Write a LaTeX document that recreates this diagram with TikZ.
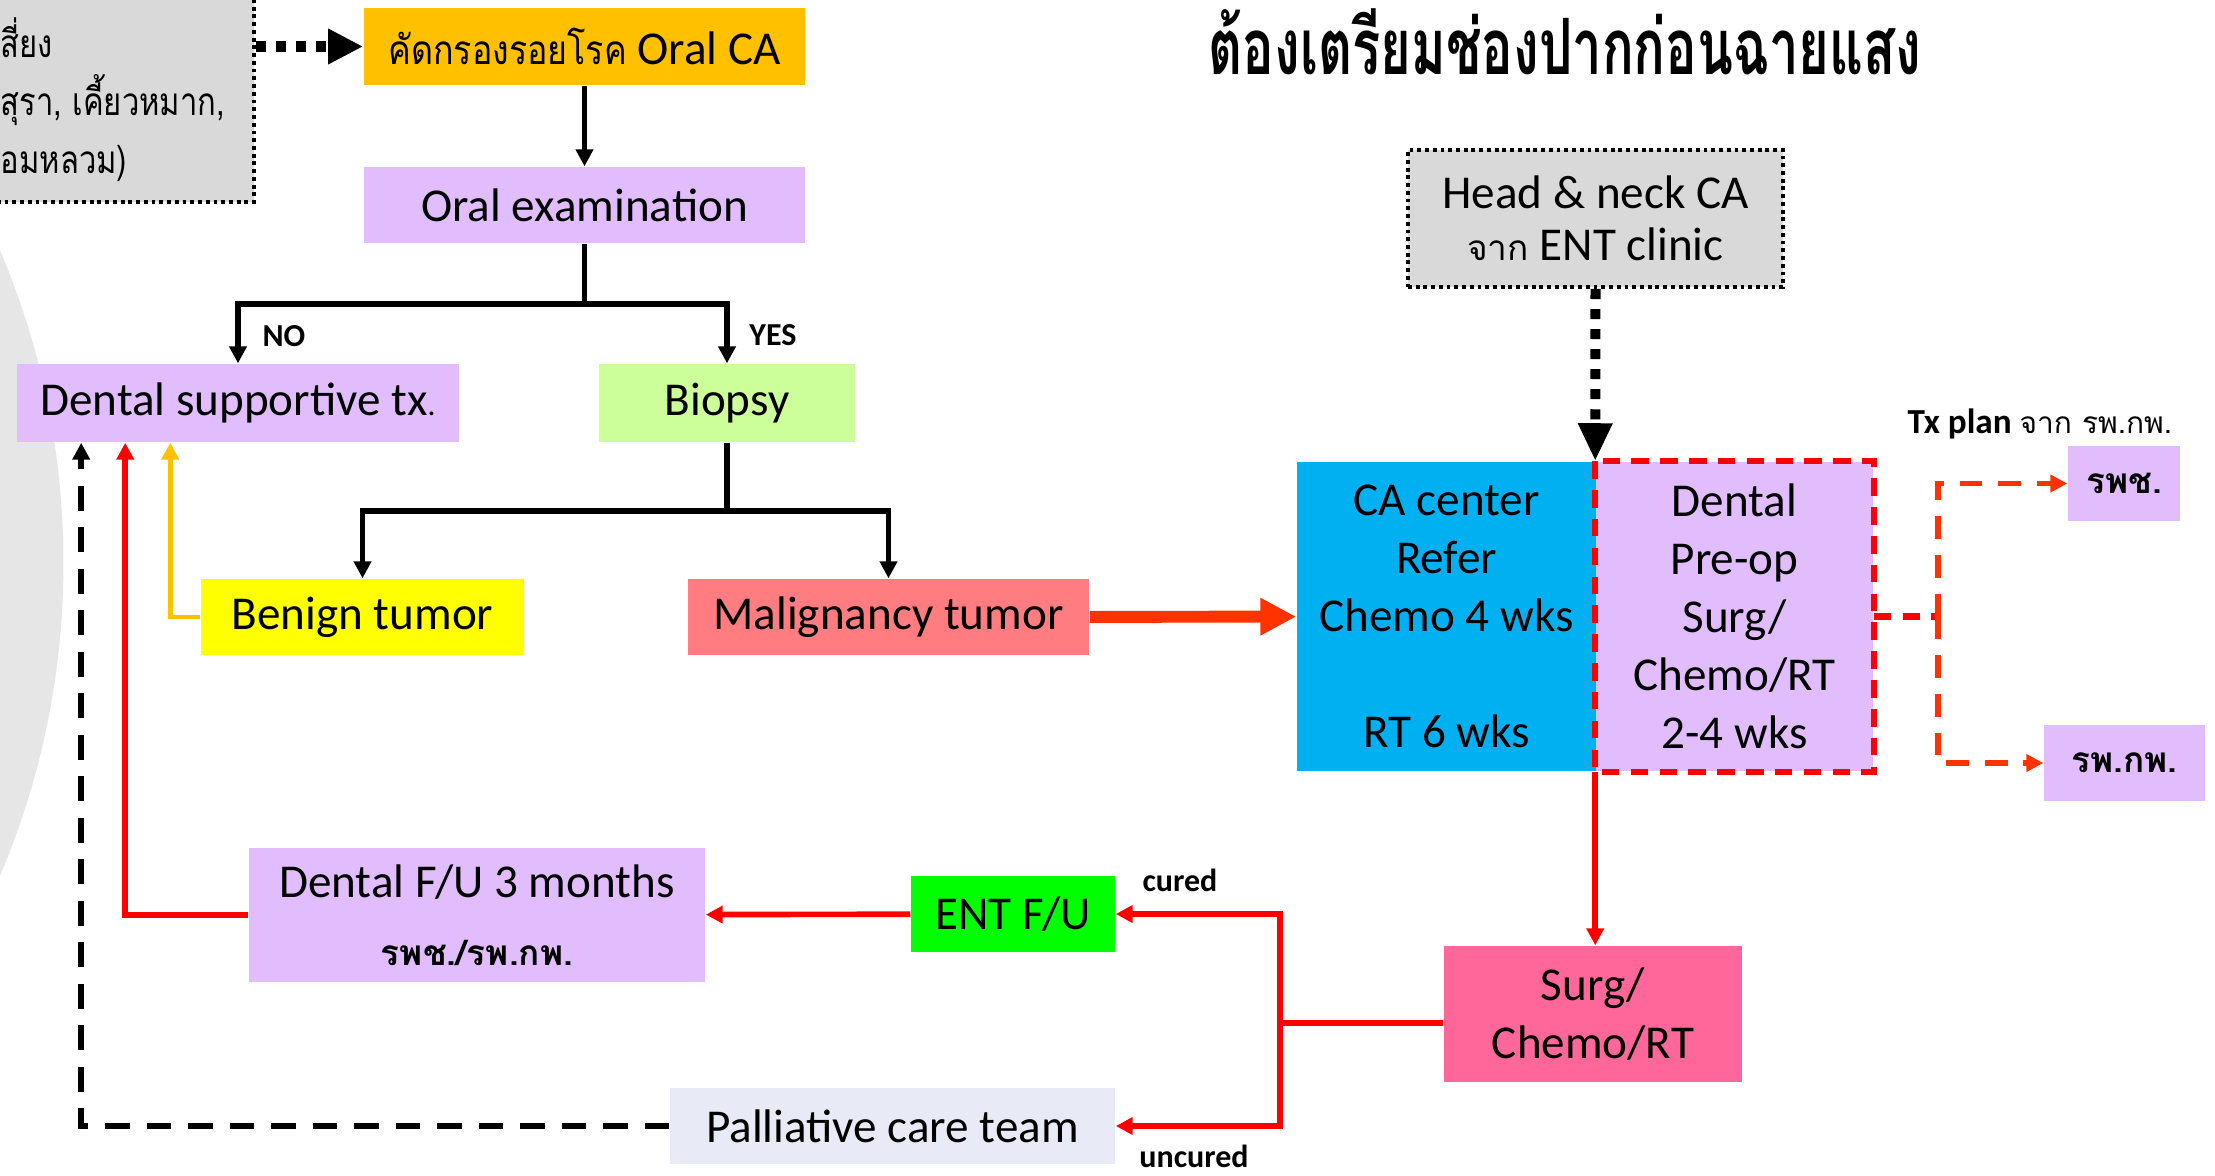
\documentclass[tikz,border=0pt]{standalone}
\usepackage{fontspec}
\usepackage{graphicx}
\setmainfont{Carlito}
\newfontfamily\thai[Script=Thai]{Loma}
\usetikzlibrary{arrows.meta}
\definecolor{screenorange}{HTML}{FFC000}
\definecolor{boxlavender}{HTML}{E1BDFD}
\definecolor{biopsygreen}{HTML}{CCFF99}
\definecolor{benignyellow}{HTML}{FFFF00}
\definecolor{maligsalmon}{HTML}{FF7C80}
\definecolor{centerblue}{HTML}{00B0F0}
\definecolor{surgpink}{HTML}{FF6699}
\definecolor{entgreen}{HTML}{00FF00}
\definecolor{palliblue}{HTML}{E8EAF6}
\definecolor{notegray}{HTML}{D9D9D9}
\definecolor{backgray}{HTML}{E6E6E6}
\definecolor{hotred}{HTML}{FF3300}
\newcommand\squeeze[2][0.82]{\scalebox{#1}[1]{#2}}
\tikzset{
	% ------- every something
	every node/.style={
		font=\fontsize{13.4}{16.5}\selectfont,
		inner sep=0pt,
		text=black,
	},
	% ------- custom
	box/.style={
		rectangle, align=center,
	},
	note box/.style={
		box, fill=notegray, draw=black,
		line width=1.1pt, dash pattern=on 1.1pt off 1.1pt,
	},
	tag/.style={
		font=\bfseries\fontsize{9.1}{11}\selectfont,
	},
	flow/.style={
		line width=1.6pt,
		-{Triangle[length=4.8pt, width=4.8pt]},
	},
	red flow/.style={
		flow, red,
	},
	yellow flow/.style={
		flow, screenorange, line width=1.4pt,
	},
	dashed flow/.style={
		flow, dash pattern=on 7pt off 4.8pt,
	},
	red dashed/.style={
		line width=1.8pt, red, dash pattern=on 5pt off 3.2pt,
	},
	red dashed flow/.style={
		flow, hotred, dash pattern=on 6.5pt off 4.5pt,
	},
	heavy dots/.style={
		line width=2.85pt, dash pattern=on 2.85pt off 2.85pt,
		-{Triangle[length=10pt, width=9.5pt]},
	},
	big arrow/.style={
		line width=3.4pt, hotred,
		-{Triangle[length=10.2pt, width=10pt]},
	},
}

\begin{document}
\begin{tikzpicture}[x=0.01cm, y=-0.01cm]

% frame %{{{1

	\useasboundingbox (0,0) rectangle (2215,1175);
	\fill[white] (0,0) rectangle (2215,1175);
	\fill[backgray] (-736,563) circle (7.99cm);

% boxes %{{{1

	\node[note box, minimum width=4.04cm, minimum height=2.22cm] (risk) at (52,91) {};
	\node[anchor=west, align=left, font=\thai\fontsize{11}{16.5}\selectfont] (risktext) at (0,100)
		{\squeeze[0.8]{สี่ยง}\\\squeeze[0.8]{สุรา, เคี้ยวหมาก,}\\\squeeze[0.8]{อมหลวม)}};

	\node[box, fill=screenorange, minimum width=4.41cm, minimum height=0.77cm] (screen) at (584.5,46.5)
		{{\thai\fontsize{11.5}{14}\selectfont\squeeze[0.84]{คัดกรองรอยโรค}} Oral CA};
	\node[box, fill=boxlavender, minimum width=4.41cm, minimum height=0.76cm] (exam) at (584.5,205)
		{Oral examination};
	\node[box, fill=boxlavender, minimum width=4.42cm, minimum height=0.78cm] (support) at (238,403)
		{Dental supportive tx{\fontsize{9}{9}\selectfont.}};
	\node[box, fill=biopsygreen, minimum width=2.56cm, minimum height=0.78cm] (biopsy) at (727,403)
		{Biopsy};
	\node[box, fill=benignyellow, minimum width=3.23cm, minimum height=0.76cm] (benign) at (362.5,617)
		{Benign tumor};
	\node[box, fill=maligsalmon, minimum width=4.01cm, minimum height=0.76cm] (malig) at (888.5,617)
		{Malignancy tumor};

	\node[box, fill=centerblue, minimum width=2.99cm, minimum height=3.09cm] (center) at (1446.5,616.5)
		{CA center\\Refer\\Chemo 4 wks\\[16.5pt]RT 6 wks};
	\node[box, fill=boxlavender, minimum width=2.77cm, minimum height=3.09cm] (preop) at (1734.5,616.5)
		{Dental\\Pre-op\\Surg/\\Chemo/RT\\2-4 wks};
	\draw[red dashed] (preop.north west) rectangle (preop.south east);

	\node[note box, minimum width=3.75cm, minimum height=1.37cm, font=\fontsize{13.4}{14.8}\selectfont] (headneck) at (1595.5,218.5)
		{Head \& neck CA\\{\thai\fontsize{10}{12}\selectfont จาก} ENT clinic};

	\node[font=\thai\bfseries\fontsize{17}{20}\selectfont] (title) at (1565,42)
		{\scalebox{0.88}[1.3]{ต้องเตรียมช่องปากก่อนฉายแสง}};

	\node[anchor=west, font=\fontsize{10}{12}\selectfont] (txplan) at (1907,424)
		{\textbf{Tx plan} {\thai\fontsize{8.5}{10}\selectfont จาก รพ.กพ.}};
	\node[box, fill=boxlavender, minimum width=1.12cm, minimum height=0.75cm, font=\thai\bfseries\fontsize{10}{12}\selectfont] (rpch) at (2124,483.5)
		{รพช.};
	\node[box, fill=boxlavender, minimum width=1.61cm, minimum height=0.76cm, font=\thai\bfseries\fontsize{10}{12}\selectfont] (rpkp) at (2124.5,763)
		{รพ.กพ.};

	\node[box, fill=surgpink, minimum width=2.98cm, minimum height=1.36cm] (surg) at (1593,1014)
		{Surg/\\Chemo/RT};
	\node[box, fill=entgreen, minimum width=2.04cm, minimum height=0.76cm] (entfu) at (1013,914)
		{ENT F/U};
	\node[box, fill=boxlavender, minimum width=4.56cm, minimum height=1.34cm] (dentfu) at (477,915)
		{Dental F/U 3 months\\[3pt]{\thai\bfseries\fontsize{10}{12}\selectfont รพช./รพ.กพ.}};
	\node[box, fill=palliblue, minimum width=4.45cm, minimum height=0.76cm] (palli) at (892.5,1126)
		{Palliative care team};

% labels %{{{1

	\node[tag] (no) at (284,336) {NO};
	\node[tag] (yes) at (773,335) {YES};
	\node[tag] (cured) at (1180,880) {cured};
	\node[tag] (uncured) at (1194,1156) {uncured};

% coordinates %{{{1

	\coordinate (examsplit) at (584.5,304);
	\coordinate (biopsysplit) at (727,511);
	\coordinate (surgsplit) at (1280,1023);
	\coordinate (txsplit) at ([xshift=0.64cm]preop.east);
	\coordinate (blackin) at ([xshift=0.65cm]support.south west);
	\coordinate (redin) at ([xshift=1.09cm]support.south west);
	\coordinate (yellowin) at ([xshift=1.54cm]support.south west);

% connectors %{{{1

	\draw[heavy dots] (risk.east |- screen.west) -- (screen.west);
	\draw[flow] (screen) -- (exam);

	\draw[line width=1.6pt] (exam.south) -- (examsplit);
	\draw[flow] (examsplit) -| (support.north);
	\draw[flow] (examsplit) -| (biopsy.north);

	\draw[line width=1.6pt] (biopsy.south) -- (biopsysplit);
	\draw[flow] (biopsysplit) -| (benign.north);
	\draw[flow] (biopsysplit) -| (malig.north);

	\draw[big arrow] (malig) -- (center);
	\draw[heavy dots, -{Triangle[length=10.8pt, width=9.1pt]}] (headneck.south) -- (preop.north west);

	\draw[red flow] (preop.south west) -- (preop.south west |- surg.north);
	\draw[red, line width=1.6pt] ([yshift=-0.09cm]surg.west) -- (surgsplit);
	\draw[red flow] (surgsplit) |- (entfu.east);
	\draw[red flow] (surgsplit) |- (palli.east);
	\draw[red flow] (entfu) -- (dentfu);

	\draw[red flow] (dentfu.west) -| (redin);
	\draw[yellow flow] (benign.west) -| (yellowin);
	\draw[dashed flow] (palli.west) -| (blackin);

	\draw[red dashed] (preop.east) -- (txsplit);
	\draw[red dashed flow] (txsplit) |- (rpch.west);
	\draw[red dashed flow] (txsplit) |- (rpkp.west);

% closing %{{{1

\end{tikzpicture}
\end{document}
